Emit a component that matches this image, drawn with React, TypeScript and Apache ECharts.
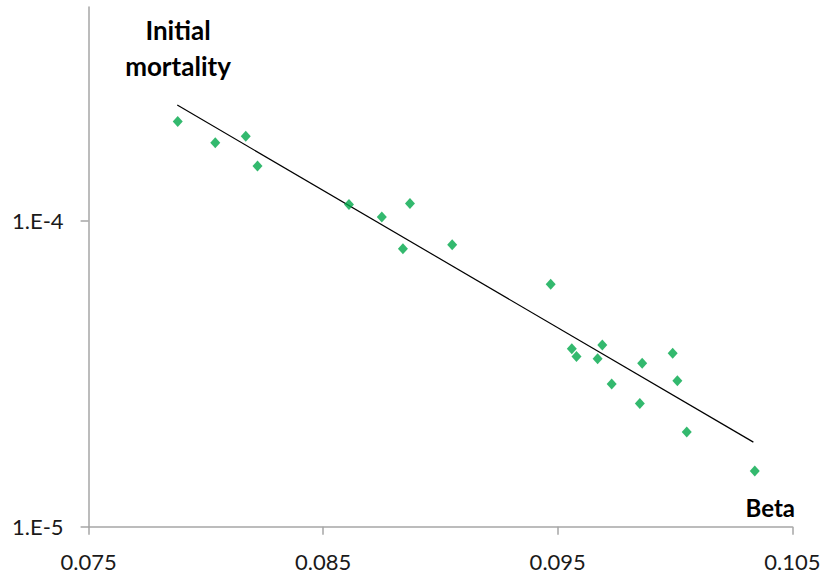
import React, { useEffect, useRef } from "react";
import * as echarts from "echarts";

// Scatter data: beta (x) vs initial mortality (y, log scale)
const betaValues = [
  0.0788, 0.0804, 0.0817, 0.0822, 0.0861, 0.0875, 0.0887, 0.0884, 0.0905,
  0.0947, 0.0956, 0.0958, 0.0969, 0.0967, 0.0973, 0.0986, 0.0999, 0.1001,
  0.0985, 0.1005, 0.1034,
];
const mortalityValues = [
  2.11e-4, 1.8e-4, 1.89e-4, 1.51e-4, 1.13e-4, 1.03e-4, 1.14e-4, 8.1e-5,
  8.35e-5, 6.2e-5, 3.82e-5, 3.6e-5, 3.93e-5, 3.54e-5, 2.93e-5, 3.42e-5,
  3.69e-5, 3.0e-5, 2.53e-5, 2.04e-5, 1.52e-5,
];
// Exponential trend line end points
const trendBeta = [0.07878, 0.10334];
const trendMortality = [2.39e-4, 1.89e-5];

const xTicks = [0.075, 0.085, 0.095, 0.105];
const yTicks = [1e-5, 1e-4];

export default function App() {
  const ref = useRef<HTMLDivElement>(null);
  useEffect(() => {
    if (!ref.current) return;
    const chart = echarts.init(ref.current, undefined, { renderer: "svg" });
    const font = "Lato, 'Liberation Sans', sans-serif";
    chart.setOption({
      animation: false,
      backgroundColor: "#ffffff",
      grid: {
        left: 88.6,
        right: 30.7,
        top: 7,
        bottom: 49.3,
        containLabel: false,
        outerBoundsMode: "none",
      },
      xAxis: {
        type: "value",
        min: 0.075,
        max: 0.105,
        splitLine: { show: false },
        axisLine: { show: true, onZero: false, lineStyle: { color: "#a6a6a6", width: 1.5 } },
        axisTick: {
          show: true,
          length: 8,
          customValues: xTicks,
          lineStyle: { color: "#a6a6a6", width: 1.5 },
        },
        axisLabel: {
          customValues: xTicks,
          margin: 24,
          color: "#1a1a1a",
          fontSize: 22,
          fontFamily: font,
          formatter: (v: number) => v.toFixed(3),
        },
      },
      yAxis: {
        type: "log",
        logBase: 10,
        min: 1e-5,
        max: 5e-4,
        splitLine: { show: false },
        axisLine: { show: true, lineStyle: { color: "#a6a6a6", width: 1.5 } },
        axisTick: {
          show: true,
          length: 8,
          customValues: yTicks,
          lineStyle: { color: "#a6a6a6", width: 1.5 },
        },
        axisLabel: {
          customValues: yTicks,
          margin: 25,
          color: "#1a1a1a",
          fontSize: 22,
          fontFamily: font,
          formatter: (v: number) => "1.E" + Math.round(Math.log10(v)),
        },
      },
      graphic: [
        {
          type: "text",
          left: 178 - 60,
          top: 12,
          style: {
            text: "Initial\nmortality",
            fill: "#000",
            font: "bold 26px " + font,
            textAlign: "center",
            lineHeight: 36,
            width: 120,
          },
        },
        {
          type: "text",
          right: 823 - 795,
          top: 495,
          style: {
            text: "Beta",
            fill: "#000",
            font: "bold 24px " + font,
          },
        },
      ],
      series: [
        {
          type: "line",
          data: trendBeta.map((b, i) => [b, trendMortality[i]]),
          symbol: "none",
          lineStyle: { color: "#000000", width: 1.2 },
          silent: true,
          z: 1,
        },
        {
          type: "scatter",
          data: betaValues.map((b, i) => [b, mortalityValues[i]]),
          symbol: "diamond",
          symbolSize: [10, 11],
          itemStyle: { color: "#00a84a" },
          z: 2,
        },
      ],
    });
    return () => chart.dispose();
  }, []);
  return (
    <div
      ref={ref}
      style={{ position: "fixed", left: 0, top: 0, width: 823, height: 576 }}
    />
  );
}
